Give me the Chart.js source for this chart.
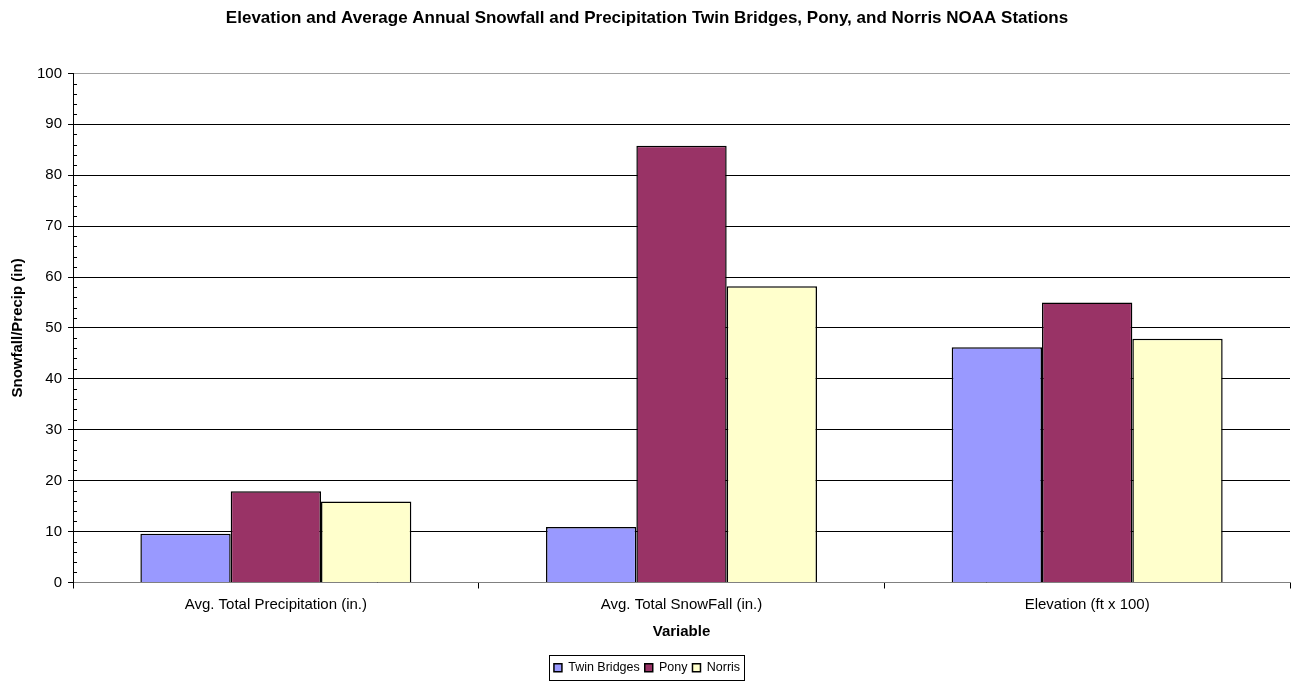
<!DOCTYPE html>
<html>
<head>
<meta charset="utf-8">
<script src="https://cdn.jsdelivr.net/npm/chart.js@4.4.1/dist/chart.umd.min.js"></script>
<style>
  html, body { margin: 0; padding: 0; background: #fff; }
  #wrap { width: 1297px; height: 681px; position: relative; }
</style>
</head>
<body>
<div id="wrap"><canvas id="snowChart"></canvas></div>
<script>
var categories = ["Avg. Total Precipitation (in.)", "Avg. Total SnowFall (in.)", "Elevation (ft x 100)"];
var twinBridges = [9.6, 10.9, 46.2];
var pony = [17.9, 85.8, 55.0];
var norris = [15.9, 58.2, 47.9];

var FONT = "'Liberation Sans', Arial, sans-serif";

// small inward ticks between the labelled ones, plus box round the legend
var extras = {
    id: 'extras',
    afterDraw: function(chart) {
        var ctx = chart.ctx;
        var y = chart.scales.y;
        ctx.save();
        ctx.strokeStyle = '#000';
        ctx.lineWidth = 1;
        for (var v = 0; v <= 100; v += 2) {
            if (v % 10 === 0) continue;
            var py = Math.round(y.getPixelForValue(v)) + 0.5;
            ctx.beginPath();
            ctx.moveTo(y.right, py);
            ctx.lineTo(y.right + 4, py);
            ctx.stroke();
        }
        var hb = chart.legend.legendHitBoxes;
        if (hb && hb.length) {
            var l = hb[0].left, r = 0, t = hb[0].top, b = 0;
            for (var i = 0; i < hb.length; i++) {
                l = Math.min(l, hb[i].left);
                r = Math.max(r, hb[i].left + hb[i].width);
                t = Math.min(t, hb[i].top);
                b = Math.max(b, hb[i].top + hb[i].height);
            }
            ctx.strokeRect(Math.round(l - 5) + 0.5, Math.round(t - 7) + 0.5, Math.round(r - l + 9), Math.round(b - t + 12));
        }
        ctx.restore();
    }
};

var canvas = document.getElementById("snowChart");
var chart = new Chart(canvas, {
    type: 'bar',
    data: {
        labels: categories,
        datasets: [
            { label: "Twin Bridges", data: twinBridges, backgroundColor: '#9999ff', borderColor: '#000', borderWidth: 1.5 },
            { label: "Pony", data: pony, backgroundColor: '#993366', borderColor: '#000', borderWidth: 1.5 },
            { label: "Norris", data: norris, backgroundColor: '#ffffcc', borderColor: '#000', borderWidth: 1.5 }
        ]
    },
    options: {
        responsive: true,
        maintainAspectRatio: false,
        animation: false,
        devicePixelRatio: 1,
        layout: { padding: { left: 4, right: 7, top: 0, bottom: -3 } },
        datasets: { bar: { categoryPercentage: 0.668, barPercentage: 1.0 } },
        plugins: {
            title: {
                display: true,
                text: "Elevation and Average Annual Snowfall and Precipitation Twin Bridges, Pony, and Norris NOAA Stations",
                color: '#000',
                font: { family: FONT, size: 17, weight: 'bold' },
                padding: { top: 8, bottom: 45 }
            },
            legend: {
                position: 'bottom',
                labels: {
                    color: '#000',
                    font: { family: FONT, size: 12.5 },
                    boxWidth: 8,
                    boxHeight: 8,
                    padding: 5,
                    useBorderRadius: false
                }
            },
            tooltip: { enabled: false }
        },
        scales: {
            x: {
                offset: true,
                border: { color: '#808080', width: 1 },
                grid: { offset: true, drawOnChartArea: false, drawTicks: true, tickLength: 6, color: '#000' },
                ticks: { color: '#000', font: { family: FONT, size: 15 }, padding: 7 },
                title: { display: true, text: "Variable", color: '#000', font: { family: FONT, size: 15, weight: 'bold' }, padding: { top: 2, bottom: 16 } }
            },
            y: {
                min: 0,
                max: 100,
                border: { color: '#000', width: 1 },
                grid: { color: function(c) { return c.tick && c.tick.value === 100 ? '#a0a0a0' : '#000'; }, tickColor: '#000', tickLength: 5 },
                ticks: { stepSize: 10, color: '#000', font: { family: FONT, size: 15 }, padding: 6 },
                title: { display: true, text: "Snowfall/Precip (in)", color: '#000', font: { family: FONT, size: 15, weight: 'bold' }, padding: { top: 5, bottom: 4 } }
            }
        }
    },
    plugins: [extras]
});
</script>
</body>
</html>
